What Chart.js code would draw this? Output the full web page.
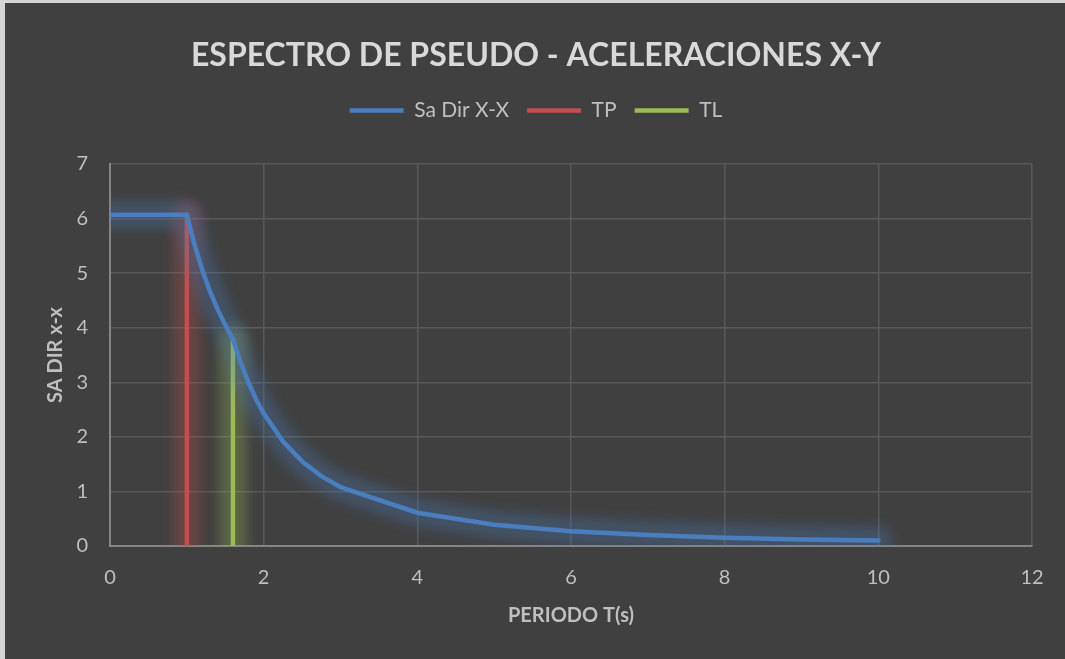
<!DOCTYPE html>
<html>
<head>
<meta charset="utf-8">
<title>Espectro de pseudo-aceleraciones</title>
<script src="https://cdn.jsdelivr.net/npm/chart.js@4.4.1/dist/chart.umd.min.js"></script>
<style>
  html, body { margin: 0; padding: 0; background: #d4d4d4; }
  #frame {
    position: absolute; left: 5px; top: 3px;
    width: 1060px; height: 656px;
    background: #404040;
  }
</style>
</head>
<body>
<div id="frame"><canvas id="chart"></canvas></div>
<script>
// Periodo T (s) and spectral acceleration Sa, direction X-X
const periods = [0, 0.2, 0.4, 0.6, 0.8, 1.0, 1.1, 1.2, 1.3, 1.4, 1.5, 1.6, 1.7, 1.8, 1.9, 2.0,
                 2.25, 2.5, 2.75, 3, 4, 5, 6, 7, 8, 9, 10];
const saDirX  = [6.07, 6.07, 6.07, 6.07, 6.07, 6.07, 5.52, 5.06, 4.67, 4.34, 4.05, 3.79, 3.36, 3.00, 2.69, 2.43,
                 1.92, 1.55, 1.28, 1.08, 0.61, 0.39, 0.27, 0.20, 0.15, 0.12, 0.10];

// Vertical markers: TP and TL
const tpPeriod = [1.0, 1.0];
const tpSa     = [0, 6.07];
const tlPeriod = [1.6, 1.6];
const tlSa     = [0, 3.79];

const seriesNames = ['Sa Dir X-X', 'TP', 'TL'];
const chartTitle = 'ESPECTRO DE PSEUDO - ACELERACIONES X-Y';
const xTitle = 'PERIODO T(s)';
const yTitle = 'SA DIR x-x';

const toPoints = (xs, ys) => xs.map((x, i) => ({ x: x, y: ys[i] }));

const FONT = "Lato, 'Open Sans', sans-serif";

// Soft halo around each series, drawn from the element positions of the dataset
const glowPlugin = {
  id: 'glow',
  beforeDatasetDraw(chart, args) {
    const ds = chart.data.datasets[args.index];
    const pts = args.meta.data;
    if (!ds.glowColor || !pts.length) return;
    const ctx = chart.ctx;
    const a = chart.chartArea;
    ctx.save();
    ctx.beginPath();
    ctx.rect(a.left, a.top, a.right - a.left, a.bottom - a.top);
    ctx.clip();
    ctx.filter = 'blur(6px)';
    ctx.strokeStyle = ds.glowColor;
    ctx.lineWidth = 28;
    ctx.lineCap = 'round';
    ctx.lineJoin = 'round';
    ctx.beginPath();
    pts.forEach((p, i) => i ? ctx.lineTo(p.x, p.y) : ctx.moveTo(p.x, p.y));
    ctx.stroke();
    ctx.restore();
  }
};

new Chart(document.getElementById('chart'), {
  type: 'line',
  data: {
    datasets: [
      {
        label: seriesNames[0],
        data: toPoints(periods, saDirX),
        borderColor: '#4a7ebf',
        backgroundColor: '#4a7ebf',
        glowColor: 'rgba(74,126,191,0.30)',
        borderWidth: 4.5,
        borderCapStyle: 'round',
        pointRadius: 0,
        tension: 0
      },
      {
        label: seriesNames[1],
        data: toPoints(tpPeriod, tpSa),
        borderColor: '#c0504d',
        backgroundColor: '#c0504d',
        glowColor: 'rgba(192,80,77,0.30)',
        borderWidth: 4.5,
        borderCapStyle: 'round',
        pointRadius: 0
      },
      {
        label: seriesNames[2],
        data: toPoints(tlPeriod, tlSa),
        borderColor: '#9bbb59',
        backgroundColor: '#9bbb59',
        glowColor: 'rgba(155,187,89,0.30)',
        borderWidth: 4.5,
        borderCapStyle: 'round',
        pointRadius: 0
      }
    ]
  },
  options: {
    responsive: true,
    maintainAspectRatio: false,
    animation: false,
    events: [],
    layout: { padding: { top: 0, left: 35, right: 33, bottom: 27 } },
    plugins: {
      tooltip: { enabled: false },
      title: {
        display: true,
        text: chartTitle,
        color: '#d9d9d9',
        font: { family: FONT, size: 32, weight: 'bold' },
        padding: { top: 33, bottom: 7.6 }
      },
      legend: {
        display: true,
        position: 'top',
        labels: {
          usePointStyle: true,
          pointStyle: 'line',
          pointStyleWidth: 54,
          color: '#bfbfbf',
          font: { family: FONT, size: 21 },
          padding: 18
        }
      }
    },
    scales: {
      x: {
        type: 'linear',
        position: 'bottom',
        min: 0,
        max: 12,
        ticks: { stepSize: 2, color: '#bfbfbf', font: { family: FONT, size: 20 }, padding: 20 },
        grid: { color: '#595959', lineWidth: 1.5, drawTicks: false },
        border: { color: '#858585', width: 2 },
        title: {
          display: true,
          text: xTitle,
          color: '#bfbfbf',
          font: { family: FONT, size: 20, weight: 'bold' },
          padding: { top: 4, bottom: 4 }
        },
        afterFit(scale) { scale.height = 86; }
      },
      xTop: {
        type: 'linear',
        position: 'top',
        min: 0,
        max: 12,
        ticks: { display: false },
        grid: { display: false, drawTicks: false },
        border: { display: false },
        afterFit(scale) { scale.height = 33; }
      },
      y: {
        type: 'linear',
        min: 0,
        max: 7,
        ticks: { stepSize: 1, color: '#bfbfbf', font: { family: FONT, size: 20 }, padding: 22 },
        grid: { color: '#595959', lineWidth: 1.5, drawTicks: false },
        border: { color: '#858585', width: 2 },
        title: {
          display: true,
          text: yTitle,
          color: '#bfbfbf',
          font: { family: FONT, size: 20, weight: 'bold' },
          padding: { top: 4, bottom: 4 }
        },
        afterFit(scale) { scale.width = 70; }
      }
    }
  },
  plugins: [glowPlugin]
});
</script>
</body>
</html>
